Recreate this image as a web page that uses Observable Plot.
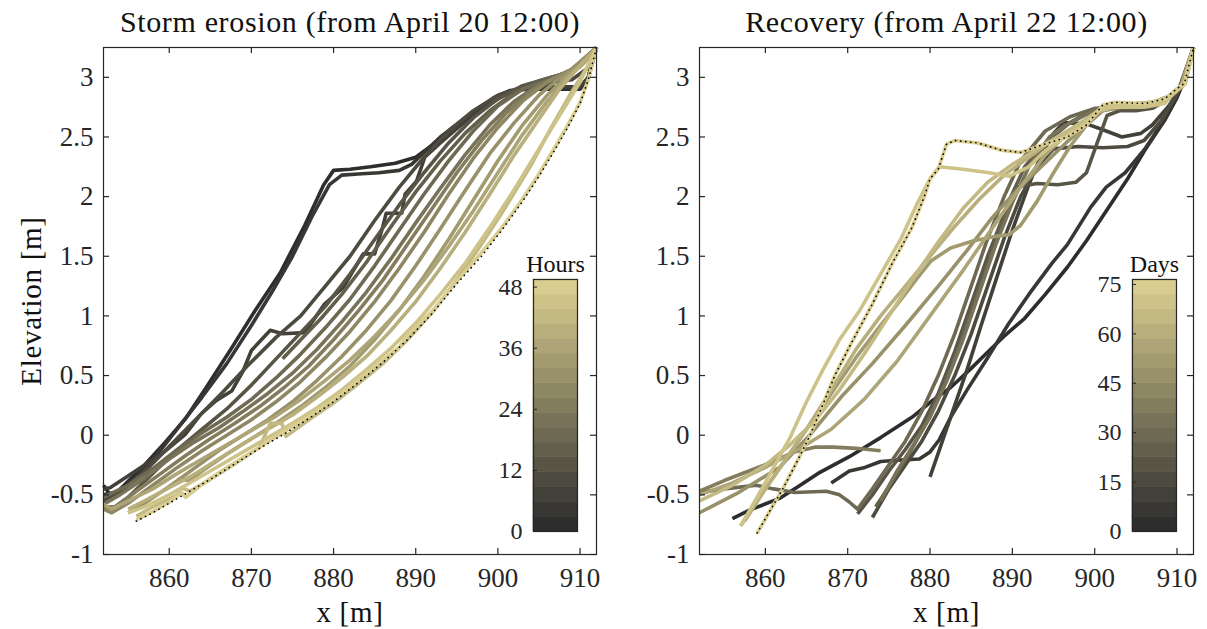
<!DOCTYPE html>
<html>
<head>
<meta charset="utf-8">
<script src="https://cdn.jsdelivr.net/npm/d3@7"></script>
<script src="https://cdn.jsdelivr.net/npm/@observablehq/plot@0.6"></script>
<style>
  body { margin: 0; background: #ffffff; }
  #wrap { position: relative; width: 1207px; height: 629px; overflow: hidden; }
  #wrap svg { position: absolute; overflow: visible; }
</style>
</head>
<body>
<div id="wrap"></div>
<script>
// ---- Colour map (dark grey -> sand), one entry per colour-bar band ----
const colormap = [
  "#2d2d2d", "#383733", "#424139", "#4d4b3f", "#585546", "#625f4c",
  "#6d6952", "#787358", "#837d5e", "#8d8764", "#98916a", "#a39b70",
  "#ada577", "#b8af7d", "#c3b983", "#cdc389", "#d8cd8f"
];

// ---- Axes ----
const xTicks = [860, 870, 880, 890, 900, 910];
const yTicks = [-1, -0.5, 0, 0.5, 1, 1.5, 2, 2.5, 3];
const xDomain = [852, 912];
const yDomain = [-1, 3.25];

// ---- Storm erosion profiles, every 3 hours from April 20 12:00 ----
const stormHours = [0, 3, 6, 9, 12, 15, 18, 21, 24, 27, 30, 33, 36, 39, 42, 45, 48];
const storm00 = [[852,-0.42],[853,-0.52],[854.5,-0.42],[857,-0.25],[859.5,-0.06],[862,0.14],[864.5,0.4],[867.5,0.72],[870.5,1.05],[873.5,1.36],[876.5,1.76],[878.8,2.1],[880,2.22],[882,2.23],[884.5,2.25],[887.5,2.28],[890,2.33],[892,2.43],[894.5,2.58],[897,2.7],[899.5,2.83],[901.5,2.89],[904,2.9],[907,2.9],[910,2.9],[911,3.0],[912,3.25]];
const storm03 = [[852,-0.5],[854,-0.47],[856.5,-0.32],[859,-0.12],[861.5,0.1],[864,0.32],[867,0.6],[870,0.92],[872.5,1.2],[875,1.5],[877.5,1.85],[879.5,2.1],[881,2.18],[883,2.19],[885.5,2.2],[888,2.22],[889.5,2.27],[891,2.37],[893,2.5],[895.5,2.63],[898,2.76],[900.5,2.86],[903,2.9],[906,2.91],[910,2.91],[911,3.0],[912,3.25]];
const storm06 = [[852,-0.45],[852.8,-0.44],[855.9,-0.3],[859.2,-0.15],[862,0.01],[863.9,0.18],[865.7,0.29],[867.6,0.37],[869,0.54],[870,0.71],[872.3,0.88],[873.8,0.85],[876.5,0.86],[878.9,1.1],[881.2,1.24],[883.6,1.52],[885,1.52],[886,1.75],[886.4,1.86],[888.3,1.86],[888.7,2.02],[890.1,2.13],[891.1,2.33],[893,2.45],[895.5,2.6],[898,2.73],[900.5,2.84],[902.5,2.9],[906,2.92],[910,2.92],[911,3.0],[912,3.25]];
const storm09 = [[852,-0.55],[854.5,-0.45],[857.5,-0.27],[860.5,-0.06],[863.5,0.15],[866.5,0.36],[869.5,0.58],[873,0.82],[876,1.0],[879,1.25],[882,1.5],[885,1.8],[888,2.08],[891,2.33],[894,2.55],[897,2.72],[900,2.85],[903,2.92],[906,2.95],[909,2.98],[911,3.08],[912,3.25]];
const storm12 = [[852,-0.6],[853,-0.62],[855,-0.52],[858,-0.32],[861,-0.12],[864,0.05],[867,0.22],[870,0.42],[873,0.64],[876,0.86],[879,1.08],[882,1.35],[885,1.64],[888,1.93],[891,2.2],[894,2.45],[897,2.66],[900,2.82],[903,2.93],[906,2.99],[909,3.05],[912,3.25]];
const storm15 = [[873.8,0.64],[876,0.8],[878.5,0.98],[881,1.18],[884,1.45],[887,1.75],[890,2.04],[893,2.3],[896,2.53],[899,2.72],[902,2.87],[905,2.97],[908,3.03],[910,3.09],[912,3.25]];
const storm18 = [[852,-0.52],[855,-0.42],[858,-0.28],[861,-0.12],[864,0.02],[867,0.15],[870,0.3],[873,0.48],[876,0.68],[879,0.9],[882,1.14],[885,1.42],[888,1.72],[891,2.02],[894,2.3],[897,2.55],[900,2.76],[903,2.9],[906,2.98],[909,3.06],[912,3.25]];
const storm21 = [[852,-0.58],[854,-0.5],[857,-0.36],[860,-0.2],[863,-0.06],[866,0.06],[869,0.2],[872,0.35],[875,0.52],[878,0.72],[881,0.95],[884,1.2],[887,1.48],[890,1.78],[893,2.07],[896,2.35],[899,2.6],[902,2.8],[905,2.94],[908,3.03],[910,3.1],[912,3.25]];
const storm24 = [[852,-0.6],[853.5,-0.6],[856,-0.47],[859,-0.32],[862,-0.17],[865,-0.03],[868,0.1],[871,0.24],[874,0.4],[877,0.58],[880,0.8],[883,1.04],[886,1.3],[889,1.6],[892,1.9],[895,2.2],[898,2.47],[901,2.7],[904,2.88],[907,3.0],[910,3.1],[912,3.25]];
const storm27 = [[852,-0.62],[853,-0.65],[855,-0.57],[858,-0.42],[861,-0.27],[864,-0.13],[867,0.0],[870,0.13],[873,0.28],[876,0.45],[879,0.65],[882,0.87],[885,1.12],[888,1.4],[891,1.7],[894,2.02],[897,2.32],[900,2.58],[903,2.8],[906,2.96],[909,3.07],[912,3.25]];
const storm30 = [[855,-0.65],[857,-0.57],[860,-0.43],[863,-0.28],[866,-0.13],[869,0.0],[872,0.13],[875,0.28],[878,0.46],[881,0.66],[884,0.88],[887,1.13],[890,1.42],[893,1.73],[896,2.05],[899,2.36],[902,2.62],[905,2.85],[908,3.02],[910,3.12],[912,3.25]];
const storm33 = [[861,-0.37],[862.5,-0.38],[864,-0.3],[867,-0.16],[870,-0.03],[873,0.1],[876,0.24],[879,0.4],[882,0.58],[885,0.8],[888,1.05],[891,1.33],[894,1.64],[897,1.97],[900,2.3],[903,2.6],[906,2.85],[908.5,3.02],[910.5,3.13],[912,3.25]];
const storm36 = [[852,-0.58],[853,-0.62],[855,-0.55],[858,-0.45],[861,-0.32],[864,-0.2],[867,-0.08],[870,0.04],[873,0.16],[876,0.3],[879,0.46],[882,0.63],[885,0.83],[888,1.05],[891,1.3],[894,1.58],[897,1.88],[900,2.2],[903,2.52],[906,2.8],[908.5,3.0],[910.5,3.12],[912,3.25]];
const storm39 = [[855,-0.62],[857,-0.55],[860,-0.44],[863,-0.33],[866,-0.2],[869,-0.07],[872,0.05],[875,0.17],[878,0.32],[881,0.48],[884,0.66],[887,0.88],[890,1.12],[893,1.4],[896,1.7],[899,2.02],[902,2.35],[905,2.65],[907.5,2.9],[910,3.1],[912,3.25]];
const storm42 = [[856,-0.68],[858,-0.6],[861,-0.5],[861.5,-0.44],[862.5,-0.47],[865,-0.37],[868,-0.24],[871,-0.1],[872.3,0.1],[873.7,0.1],[874.2,-0.01],[877,0.13],[880,0.27],[883,0.43],[886,0.6],[889,0.8],[892,1.03],[895,1.3],[898,1.6],[901,1.92],[904,2.26],[906.5,2.58],[909,2.88],[911,3.1],[912,3.25]];
const storm45 = [[855,-0.65],[857,-0.6],[860,-0.5],[863,-0.38],[866,-0.26],[869,-0.14],[872,-0.02],[875,0.1],[878,0.23],[881,0.38],[884,0.55],[887,0.73],[890,0.94],[893,1.18],[896,1.44],[899,1.74],[902,2.06],[905,2.4],[907.5,2.68],[910,2.96],[912,3.25]];
const storm48 = [[856,-0.71],[858,-0.64],[860,-0.56],[861.5,-0.48],[862,-0.52],[865,-0.36],[868,-0.23],[871,-0.1],[874,0.03],[877,0.16],[880,0.3],[883,0.46],[886,0.63],[888,0.74],[889,0.84],[892,1.04],[895,1.29],[898,1.53],[900.5,1.74],[903,1.98],[905,2.19],[907,2.42],[908.5,2.6],[910,2.79],[911,2.98],[912,3.25]];
const stormProfiles = [storm00, storm03, storm06, storm09, storm12, storm15, storm18, storm21, storm24, storm27, storm30, storm33, storm36, storm39, storm42, storm45, storm48];
const stormFinal = [[856,-0.72],[858,-0.65],[860,-0.57],[862,-0.49],[865,-0.37],[868,-0.24],[871,-0.11],[874,0.01],[877,0.14],[880,0.28],[883,0.44],[886,0.61],[889,0.8],[892,1.02],[895,1.27],[898,1.5],[900.5,1.72],[903,1.96],[905,2.17],[907,2.4],[908.5,2.58],[910,2.78],[911,2.98],[912,3.25]];

// ---- Recovery profiles, days after April 22 12:00 ----
const recoveryDays = [0, 5, 10, 15, 20, 25, 30, 35, 40, 45, 50, 55, 60, 65, 70, 75];
const rec00 = [[856,-0.7],[858,-0.63],[861.7,-0.53],[864,-0.43],[866.4,-0.32],[870.2,-0.18],[874,-0.02],[877.8,0.15],[880.1,0.28],[882.5,0.4],[885,0.56],[887.2,0.71],[889,0.83],[891.5,0.98],[894,1.18],[896.7,1.41],[899,1.63],[901.4,1.88],[904,2.15],[906.1,2.39],[908.5,2.64],[910,2.83],[911,3.0],[912,3.25]];
const rec05 = [[868,-0.4],[870.2,-0.3],[872.1,-0.27],[874,-0.22],[876,-0.21],[878.7,-0.2],[880,-0.14],[881.1,-0.04],[882.5,0.15],[884.5,0.38],[887,0.65],[889.5,0.93],[892,1.18],[894.8,1.44],[896.7,1.6],[899.5,1.91],[901.4,2.08],[903.7,2.2],[906.1,2.4],[908.5,2.65],[910,2.84],[911,3.0],[912,3.25]];
const rec10 = [[880,-0.35],[881.5,-0.05],[883,0.25],[884.5,0.55],[886.2,0.92],[888,1.3],[890,1.72],[892,2.1],[893.5,2.35],[895,2.53],[896.2,2.62],[899,2.61],[901,2.56],[903.3,2.5],[905.6,2.53],[907,2.6],[909,2.76],[910.5,2.92],[912,3.25]];
const rec15 = [[873,-0.69],[875,-0.45],[877,-0.25],[879,-0.05],[881,0.2],[883,0.5],[885,0.85],[887,1.25],[889,1.65],[891,2.0],[893,2.25],[895,2.4],[898,2.42],[901,2.41],[904,2.42],[906,2.47],[908,2.63],[910,2.86],[912,3.25]];
const rec20 = [[871.2,-0.66],[873,-0.5],[875,-0.3],[877,-0.12],[879,0.08],[881,0.35],[883,0.7],[885,1.1],[887,1.5],[889,1.85],[890.5,2.08],[893,2.11],[895.5,2.1],[897.7,2.12],[899,2.2],[900.3,2.45],[901.5,2.68],[903,2.72],[905,2.72],[907,2.74],[909,2.82],[910.5,2.92],[912,3.25]];
const rec25 = [[873.4,-0.6],[875.5,-0.38],[877.5,-0.15],[879.5,0.1],[881.5,0.4],[883.5,0.75],[885.5,1.15],[887.5,1.55],[889.5,1.95],[891.5,2.25],[894,2.45],[897,2.62],[899.5,2.72],[902,2.74],[906,2.75],[908.5,2.8],[910.5,2.92],[912,3.25]];
const rec30 = [[852,-0.48],[855,-0.45],[858.9,-0.42],[861,-0.45],[863.6,-0.48],[867.4,-0.47],[869,-0.5],[870.2,-0.56],[871.2,-0.62],[873,-0.45],[875,-0.25],[877,-0.05],[879,0.2],[881,0.5],[883,0.85],[885,1.25],[887,1.65],[889,2.0],[891,2.3],[894,2.55],[897,2.67],[900,2.74],[903,2.75],[906,2.76],[908.5,2.81],[910.5,2.92],[912,3.25]];
const rec35 = [[874,-0.55],[876,-0.3],[878,-0.08],[880,0.15],[882,0.45],[884,0.8],[886,1.2],[888,1.6],[890,1.95],[892,2.25],[894.5,2.5],[896.5,2.6],[898.5,2.67],[900.5,2.74],[903,2.76],[906,2.77],[908.5,2.81],[910.5,2.92],[912,3.25]];
const rec40 = [[852,-0.47],[855,-0.38],[858,-0.3],[861,-0.22],[863.5,-0.14],[866,-0.1],[868.3,-0.1],[871,-0.11],[874,-0.13]];
const rec45 = [[852,-0.65],[856.5,-0.49],[861.7,-0.27],[865.5,0.01],[869.2,0.32],[873,0.6],[877,0.92],[881,1.25],[884.5,1.55],[887.5,1.82],[890.5,2.05],[893.5,2.25],[896.5,2.45],[899,2.6],[901,2.72],[904,2.76],[907,2.78],[909,2.83],[910.5,2.92],[912,3.25]];
const rec50 = [[857,-0.76],[859.5,-0.5],[862,-0.25],[865,0.05],[868,0.35],[871,0.65],[874,0.92],[876.4,1.13],[878.5,1.32],[880.1,1.46],[882.5,1.57],[885.3,1.63],[888.2,1.67],[889.6,1.68],[891,1.76],[893,1.96],[895,2.2],[897,2.42],[899,2.6],[901,2.73],[904,2.77],[907,2.79],[909,2.84],[910.5,2.93],[912,3.25]];
const rec55 = [[852,-0.5],[856,-0.4],[860,-0.27],[864,-0.12],[868,0.05],[872,0.3],[876,0.62],[880,1.0],[884,1.38],[888,1.78],[891,2.08],[894,2.35],[897,2.55],[900,2.7],[903,2.76],[907,2.79],[909,2.84],[910.5,2.93],[912,3.25]];
const rec60 = [[857.5,-0.72],[860,-0.45],[862.5,-0.2],[865,0.05],[868,0.38],[871,0.72],[874,1.0],[877,1.25],[880,1.5],[883,1.75],[886,1.98],[889,2.18],[892,2.33],[895,2.48],[898,2.6],[900.5,2.72],[902,2.76],[905,2.78],[908,2.8],[909.5,2.86],[911,2.95],[912,3.25]];
const rec65 = [[852,-0.55],[856,-0.42],[860,-0.25],[863,-0.08],[866,0.12],[869,0.38],[872,0.68],[875,1.0],[878,1.32],[881,1.62],[884,1.9],[887,2.12],[890,2.27],[893,2.4],[896,2.52],[899,2.65],[901,2.75],[905,2.77],[908,2.79],[909.5,2.86],[911,2.95],[912,3.25]];
const rec70 = [[857,-0.76],[859,-0.52],[861,-0.27],[863,-0.02],[865,0.28],[867,0.55],[869,0.8],[871.5,1.05],[874,1.35],[876.5,1.65],[878.5,1.95],[880,2.15],[881.1,2.25],[884,2.23],[887.2,2.2],[889.6,2.17],[892,2.25],[893.9,2.38],[896,2.48],[898.5,2.6],[900.5,2.72],[902,2.75],[906,2.75],[908.5,2.78],[909.5,2.86],[911,2.95],[912,3.25]];
const rec75 = [[859,-0.82],[860.5,-0.64],[862.2,-0.44],[864,-0.2],[865.5,0.01],[867,0.26],[868.5,0.51],[870.5,0.78],[873,1.1],[875.4,1.44],[877.8,1.74],[879.3,2.0],[880,2.15],[881,2.23],[882,2.44],[883,2.47],[885.8,2.45],[888.6,2.39],[891,2.37],[893.9,2.44],[896.7,2.5],[899,2.6],[901,2.77],[902.4,2.79],[906.1,2.78],[908.5,2.82],[909.9,2.9],[910.9,2.95],[912,3.25]];
const recoveryProfiles = [rec00, rec05, rec10, rec15, rec20, rec25, rec30, rec35, rec40, rec45, rec50, rec55, rec60, rec65, rec70, rec75];

// ---- Colour-bar ranges and ticks ----
const hoursTicks = [0, 12, 24, 36, 48];
const daysTicks = [0, 15, 30, 45, 60, 75];
const hoursMax = 49.5;
const daysMax = 76.5;

// ---- Layout / style ----
const H = 629, MT = 47, MB = 75;
const ink = "#262626";
const serif = "'Liberation Serif', 'DejaVu Serif', serif";

function bandColor(v, max) {
  const n = colormap.length;
  return colormap[Math.min(n - 1, Math.floor(v / (max / n)))];
}

function place(svg, left, top) {
  svg.style.position = "absolute";
  svg.style.left = left + "px";
  svg.style.top = top + "px";
  document.getElementById("wrap").appendChild(svg);
}

function label(text, opts) {
  return Plot.text([text], {text: d => d, fontFamily: serif, fill: "#111",
    textAnchor: "middle", lineAnchor: "middle", ...opts});
}

// widen the letter spacing of the given label texts inside a rendered chart
function spaceOut(svg, texts, spacing) {
  d3.select(svg).selectAll("text")
    .filter(function () { return texts.includes(this.textContent); })
    .style("letter-spacing", spacing);
}

function panel({profiles, values, max, dotted, title, left, width, marginLeft, marginRight, yLabel}) {
  const rows = profiles.flatMap((pts, i) =>
    pts.map(([x, y]) => ({x, y, key: values[i], color: bandColor(values[i], max)})));
  const ih = H - MT - MB;
  const iw = width - marginLeft - marginRight;
  const marks = [
    Plot.line(rows, {x: "x", y: "y", z: "key", stroke: "color", strokeWidth: 3.6,
      strokeLinejoin: "round", strokeLinecap: "butt"}),
    Plot.line(dotted, {x: d => d[0], y: d => d[1], stroke: "#000", strokeWidth: 1.7,
      strokeDasharray: "0.1 5", strokeLinecap: "round"}),
    Plot.frame({stroke: ink, strokeWidth: 1.2}),
    Plot.tickX(xTicks, {x: d => d, insetTop: ih - 6, stroke: ink, strokeWidth: 1.2}),
    Plot.tickX(xTicks, {x: d => d, insetBottom: ih - 6, stroke: ink, strokeWidth: 1.2}),
    Plot.tickY(yTicks, {y: d => d, insetRight: iw - 6, stroke: ink, strokeWidth: 1.2}),
    Plot.tickY(yTicks, {y: d => d, insetLeft: iw - 6, stroke: ink, strokeWidth: 1.2}),
    Plot.axisX(xTicks, {anchor: "bottom", tickSize: 0, tickPadding: 13, label: null,
      fill: ink, fontSize: 27, fontFamily: serif}),
    Plot.axisY(yTicks, {anchor: "left", tickSize: 0, tickPadding: 10, label: null,
      tickFormat: d => String(d), fill: ink, fontSize: 27, fontFamily: serif}),
    label(title, {frameAnchor: "top", dy: -25, fontSize: 30}),
    label("x [m]", {frameAnchor: "bottom", dy: 58, fontSize: 29})
  ];
  if (yLabel) {
    marks.push(label(yLabel, {frameAnchor: "left", dx: -72, rotate: -90, fontSize: 29}));
  }
  const svg = Plot.plot({
    width, height: H, marginLeft, marginRight, marginTop: MT, marginBottom: MB,
    x: {domain: xDomain}, y: {domain: yDomain},
    style: {fontFamily: serif, fontSize: "27px", background: "transparent", color: ink, overflow: "visible"},
    marks
  });
  spaceOut(svg, [title], "0.65px");
  spaceOut(svg, ["x [m]", yLabel], "0.7px");
  place(svg, left, 0);
}

function colorbar({left, top, name, max, ticks}) {
  const n = colormap.length;
  const bands = colormap.map((c, i) => ({lo: i * max / n, hi: (i + 1) * max / n, c}));
  const barW = 44, barH = 252, ml = 50, mr = 10, mt = 34, mb = 14;
  const svg = Plot.plot({
    width: ml + barW + mr, height: mt + barH + mb,
    marginLeft: ml, marginRight: mr, marginTop: mt, marginBottom: mb,
    x: {domain: [0, 1], axis: null}, y: {domain: [0, max]},
    style: {fontFamily: serif, fontSize: "24px", background: "transparent", color: ink, overflow: "visible"},
    marks: [
      Plot.rect(bands, {x1: 0, x2: 1, y1: "lo", y2: "hi", fill: "c", stroke: "c", strokeWidth: 0.6}),
      Plot.frame({stroke: ink, strokeWidth: 1.2}),
      Plot.tickY(ticks, {y: d => d, insetRight: barW - 4, stroke: ink, strokeWidth: 1}),
      Plot.axisY(ticks, {anchor: "left", tickSize: 0, tickPadding: 11, label: null,
        fill: ink, fontSize: 24, fontFamily: serif}),
      label(name, {frameAnchor: "top", dy: -15, fontSize: 24})
    ]
  });
  place(svg, left - ml, top - mt);
}

panel({profiles: stormProfiles, values: stormHours, max: hoursMax, dotted: stormFinal,
  title: "Storm erosion (from April 20 12:00)", left: 0, width: 604,
  marginLeft: 103, marginRight: 8, yLabel: "Elevation [m]"});
panel({profiles: recoveryProfiles, values: recoveryDays, max: daysMax, dotted: rec75,
  title: "Recovery (from April 22 12:00)", left: 604, width: 603,
  marginLeft: 95, marginRight: 14});
colorbar({left: 533, top: 279, name: "Hours", max: hoursMax, ticks: hoursTicks});
colorbar({left: 1132, top: 279, name: "Days", max: daysMax, ticks: daysTicks});
</script>
</body>
</html>
